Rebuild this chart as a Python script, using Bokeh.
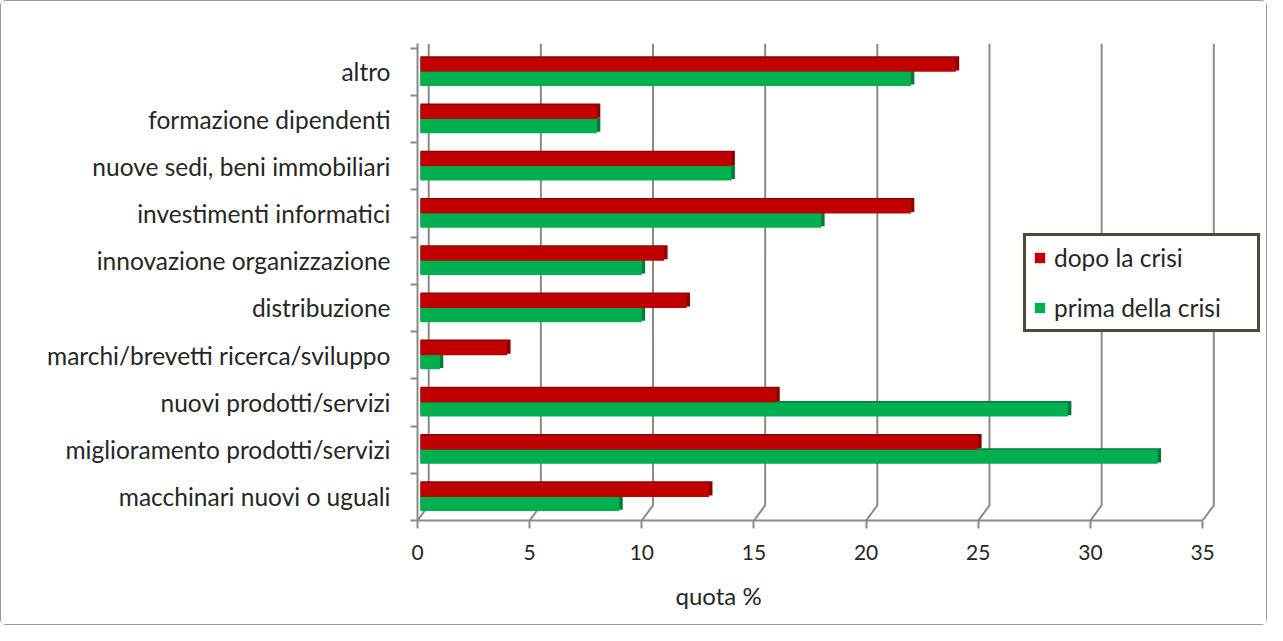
from bokeh.plotting import figure
from bokeh.models import Range1d, FixedTicker, ColumnDataSource, Legend, LegendItem, Title
from bokeh.transform import dodge
from bokeh.embed import file_html
from bokeh.resources import INLINE

categories = ["macchinari nuovi o uguali", "miglioramento prodotti/servizi", "nuovi prodotti/servizi",
              "marchi/brevetti ricerca/sviluppo", "distribuzione", "innovazione organizzazione",
              "investimenti informatici", "nuove sedi, beni immobiliari", "formazione dipendenti", "altro"]
dopo = [13, 25, 16, 4, 12, 11, 22, 14, 8, 24]
prima = [9, 33, 29, 1, 10, 10, 18, 14, 8, 22]
x_ticks = [0, 5, 10, 15, 20, 25, 30, 35]

n = len(categories)
pos = [i + 0.5 for i in range(n)]
src = ColumnDataSource(dict(y=pos, dopo=dopo, prima=prima,
                            dopo_s=[v + 0.15 for v in dopo], prima_s=[v + 0.15 for v in prima]))

FONT = "Lato"
GRAY = "#8a8a8a"
TXT = "#262626"

p = figure(width=1267, height=625, output_backend="svg", toolbar_location=None,
           x_range=Range1d(0, 37.85), y_range=Range1d(0, n + 0.1),
           min_border_left=416, min_border_right=2, min_border_top=42, min_border_bottom=105)
p.styles = {"border": "1px solid #9a9a9a", "border-radius": "6px"}
p.outline_line_color = None
p.background_fill_color = "white"
p.xgrid.grid_line_color = None
p.ygrid.grid_line_color = None

# 3D-style back-wall gridlines (offset to the back), derived from the tick list
p.multi_line(xs=[[t, t + 0.5, t + 0.5] for t in x_ticks],
             ys=[[0, 0.32, n + 0.1] for t in x_ticks],
             line_color=GRAY, line_width=2)

# 3D side faces (darker), drawn behind the front faces
p.hbar(y=dodge("y", 0.18, range=p.y_range), left=0.13, right="dopo_s", height=0.3, source=src,
       fill_color="#8e0000", line_color=None)
p.hbar(y=dodge("y", -0.12, range=p.y_range), left=0.13, right="prima_s", height=0.3, source=src,
       fill_color="#007a38", line_color=None)
r_dopo = p.hbar(y=dodge("y", 0.15, range=p.y_range), left=0.13, right="dopo", height=0.3, source=src,
                fill_color="#c00000", line_color=None)
r_prima = p.hbar(y=dodge("y", -0.15, range=p.y_range), left=0.13, right="prima", height=0.3, source=src,
                 fill_color="#00b050", line_color=None)

p.xaxis.ticker = FixedTicker(ticks=x_ticks)
p.xaxis.bounds = (x_ticks[0], x_ticks[-1])
p.xaxis.axis_line_color = GRAY
p.xaxis.axis_line_width = 2
p.xaxis.major_tick_line_color = GRAY
p.xaxis.major_tick_line_width = 2
p.xaxis.major_tick_out = 8
p.xaxis.major_tick_in = 0
p.xaxis.minor_tick_line_color = None
p.xaxis.major_label_text_font = FONT
p.xaxis.major_label_text_font_size = "21px"
p.xaxis.major_label_text_color = TXT
p.xaxis.major_label_standoff = 16

p.yaxis.ticker = FixedTicker(ticks=pos, minor_ticks=list(range(n + 1)))
p.yaxis.major_label_overrides = {v: c for v, c in zip(pos, categories)}
p.yaxis.axis_line_color = GRAY
p.yaxis.axis_line_width = 2
p.yaxis.major_tick_line_color = None
p.yaxis.minor_tick_line_color = GRAY
p.yaxis.minor_tick_line_width = 2
p.yaxis.minor_tick_out = 7
p.yaxis.minor_tick_in = 0
p.yaxis.major_label_text_font = FONT
p.yaxis.major_label_text_font_size = "24.5px"
p.yaxis.major_label_text_color = TXT
p.yaxis.major_label_standoff = 20

p.add_layout(Title(text="quota %", align="left", offset=258, text_font=FONT,
                   text_font_size="24px", text_font_style="normal", text_color=TXT,
                   standoff=33), "below")

legend = Legend(items=[LegendItem(label="dopo la crisi", renderers=[r_dopo]),
                       LegendItem(label="prima della crisi", renderers=[r_prima])],
                location=(606, 188))
legend.border_line_color = "#4d4a38"
legend.border_line_width = 3
legend.border_line_alpha = 1
legend.background_fill_color = "white"
legend.background_fill_alpha = 1
legend.label_text_font = FONT
legend.label_text_font_size = "24.5px"
legend.label_text_color = TXT
legend.glyph_width = 13
legend.glyph_height = 13
legend.label_standoff = 8
legend.label_height = 13
legend.label_width = 196
legend.spacing = 21
legend.padding = 7
legend.margin = 0
legend.border_radius = 0
p.add_layout(legend, "center")

open("out.html", "w").write(file_html(p, INLINE))
